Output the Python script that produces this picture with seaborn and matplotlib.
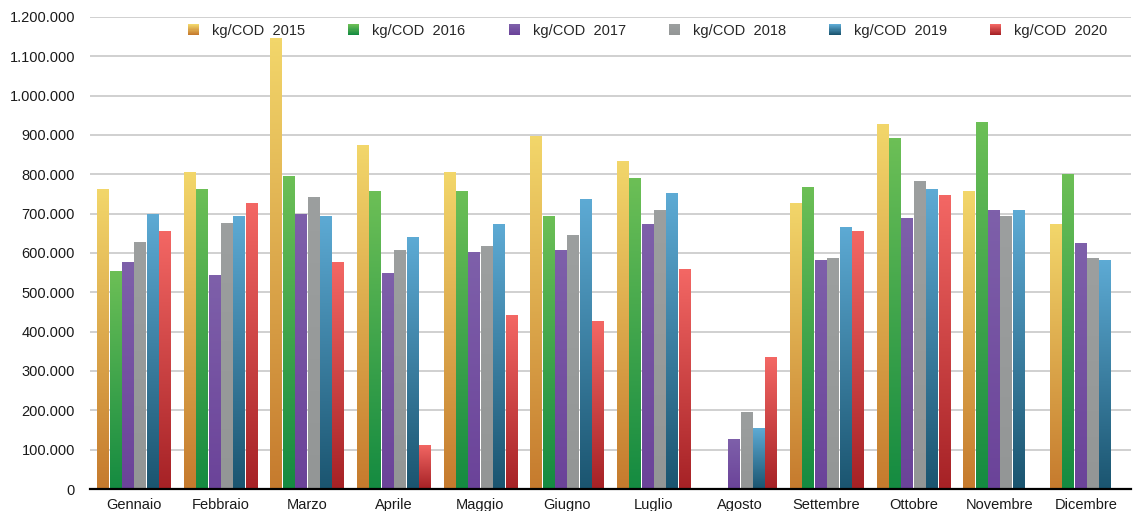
import numpy as np
import pandas as pd
import matplotlib
matplotlib.use("Agg")
import matplotlib.pyplot as plt
import seaborn as sns
from matplotlib.colors import to_rgb
from matplotlib.patches import Rectangle
from matplotlib.legend_handler import HandlerBase
from matplotlib.ticker import FuncFormatter, MultipleLocator

months = ["Gennaio", "Febbraio", "Marzo", "Aprile", "Maggio", "Giugno",
          "Luglio", "Agosto", "Settembre", "Ottobre", "Novembre", "Dicembre"]
series_names = ["kg/COD  2015", "kg/COD  2016", "kg/COD  2017",
                "kg/COD  2018", "kg/COD  2019", "kg/COD  2020"]

v2015 = [762000, 805000, 1146000, 874000, 805000, 897000, 834000, 0, 727000, 928000, 757000, 673000]
v2016 = [555000, 762000, 795000, 757000, 757000, 694000, 790000, 0, 767000, 892000, 933000, 800000]
v2017 = [577000, 544000, 699000, 549000, 602000, 607000, 673000, 127000, 582000, 689000, 709000, 625000]
v2018 = [628000, 676000, 742000, 607000, 617000, 645000, 709000, 196000, 587000, 783000, 694000, 587000]
v2019 = [700000, 694000, 694000, 640000, 673000, 737000, 752000, 155000, 666000, 762000, 709000, 582000]
v2020 = [656000, 727000, 577000, 112000, 442000, 427000, 559000, 335000, 656000, 747000, 0, 0]

grad_top = ["#F2D66A", "#6CBF56", "#7E60AA", "#9C9F9F", "#5DAAD4", "#F36764"]
grad_bot = ["#C67B2E", "#158B41", "#6B4399", "#939696", "#1B5570", "#A62226"]

all_vals = [v2015, v2016, v2017, v2018, v2019, v2020]
rows = []
for name, vals in zip(series_names, all_vals):
    for m, v in zip(months, vals):
        rows.append({"Mese": m, "Serie": name, "Valore": v})
df = pd.DataFrame(rows)

sns.set_theme(style="white")
plt.rcParams["font.family"] = ["Liberation Sans", "DejaVu Sans"]

fig = plt.figure(figsize=(11.34, 5.11), dpi=100)
ax = fig.add_axes([0.079, 0.043, 0.918, 0.924])

mid = [tuple((np.array(to_rgb(t)) + np.array(to_rgb(b))) / 2) for t, b in zip(grad_top, grad_bot)]
sns.barplot(data=df, x="Mese", y="Valore", hue="Serie", order=months,
            hue_order=series_names, palette=mid, width=0.86, gap=0.1,
            ax=ax, legend=False, zorder=2)

def gradient(top, bot, n=64):
    t = np.array(to_rgb(top)); b = np.array(to_rgb(bot))
    f = np.linspace(0, 1, n)[:, None]
    return (t * (1 - f) + b * f)[:, None, :]

for cont, top, bot in zip(ax.containers, grad_top, grad_bot):
    img = gradient(top, bot)
    for bar in cont:
        h = bar.get_height()
        if not np.isfinite(h) or h <= 0:
            bar.set_visible(False)
            continue
        x0 = bar.get_x(); w = bar.get_width()
        bar.set_facecolor("none"); bar.set_edgecolor("none")
        im = ax.imshow(img, extent=[x0, x0 + w, 0, h], aspect="auto",
                       origin="upper", zorder=2, interpolation="bilinear")
        im.set_clip_path(bar)

ax.set_xlim(-0.51, 11.51)
ax.set_ylim(0, 1200000)
ax.yaxis.set_major_locator(MultipleLocator(100000))
ax.yaxis.set_major_formatter(FuncFormatter(lambda v, p: f"{int(round(v)):,}".replace(",", ".")))
ax.grid(axis="y", color="#C8C8C8", linewidth=1.2, zorder=0)
ax.set_axisbelow(True)
for s in ["top", "right", "left"]:
    ax.spines[s].set_visible(False)
ax.spines["bottom"].set_color("black")
ax.spines["bottom"].set_linewidth(1.6)
ax.spines["bottom"].set_zorder(3)
ax.tick_params(axis="both", length=0, labelsize=10.5, colors="#1a1a1a")
ax.tick_params(axis="y", pad=10.5)
ax.tick_params(axis="x", pad=6.5)
ax.set_xlabel(""); ax.set_ylabel("")

class GradHandler(HandlerBase):
    def __init__(self, top, bot):
        super().__init__()
        self.top = top; self.bot = bot
    def create_artists(self, legend, orig_handle, xdescent, ydescent, width, height, fontsize, trans):
        n = 10
        t = np.array(to_rgb(self.top)); b = np.array(to_rgb(self.bot))
        side = height * 1.05
        x0 = -xdescent + (width - side) / 2
        y0 = -ydescent + (height - side) / 2
        arts = []
        for i in range(n):
            f = i / (n - 1)
            c = b * (1 - f) + t * f
            r = Rectangle((x0, y0 + side * i / n), side, side / n + 0.2,
                          facecolor=c, edgecolor="none", transform=trans)
            arts.append(r)
        return arts

handles = [Rectangle((0, 0), 1, 1) for _ in series_names]
hmap = {h: GradHandler(t, b) for h, t, b in zip(handles, grad_top, grad_bot)}
leg = ax.legend(handles, series_names, handler_map=hmap, ncol=6, frameon=False,
                loc="center", bbox_to_anchor=(0.536, 0.971), fontsize=10.5,
                handlelength=0.75, handleheight=0.75, handletextpad=0.9,
                columnspacing=2.96)

fig.savefig("out.png", dpi=100)
